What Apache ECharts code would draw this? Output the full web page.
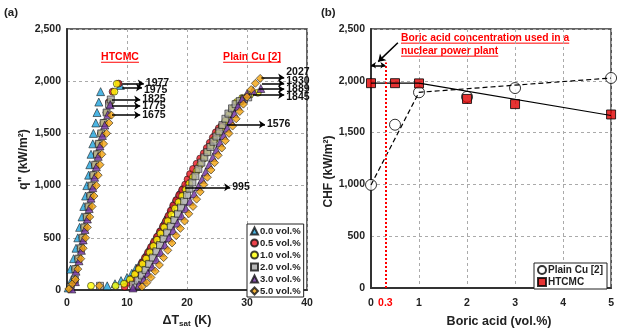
<!DOCTYPE html>
<html>
<head>
<meta charset="utf-8">
<script src="https://cdn.jsdelivr.net/npm/echarts@6/dist/echarts.min.js"></script>
<style>
html, body {margin: 0; padding: 0; background: #fff;}
#chart {width: 617px; height: 333px;}
</style>
</head>
<body>
<div id="chart"></div>
<script>
// ---- panel (a): boiling curves, [dT_sat (K), q'' (kW/m2)] ----
const concNames = ['0.0 vol.%', '0.5 vol.%', '1.0 vol.%', '2.0 vol.%', '3.0 vol.%', '5.0 vol.%'];

// HTCMC branch (steep, left)
const htcmc00 = [[0.2,20],[0.8,100],[0.6,200],[1.1,300],[1.5,400],[1.8,500],[2.1,600],[2.5,700],[2.8,800],[3.1,900],[3.3,1000],[3.6,1100],[3.8,1200],[4.0,1300],[4.3,1400],[4.4,1500],[4.8,1600],[5.0,1700],[5.3,1800],[5.6,1900],[8.9,1960]];
const htcmc05 = [[0.6,30],[1.3,100],[1.4,200],[1.9,300],[2.3,400],[2.6,500],[2.9,600],[3.3,700],[3.6,800],[3.9,900],[4.1,1000],[4.4,1100],[4.7,1200],[5.0,1300],[5.3,1400],[5.7,1500],[6.1,1600],[6.6,1700],[7.0,1800],[7.6,1900],[8.6,1977]];
const htcmc10 = [[0.6,30],[1.3,100],[1.4,200],[1.9,300],[2.3,400],[2.6,500],[2.9,600],[3.3,700],[3.6,800],[3.9,900],[4.1,1000],[4.4,1100],[4.7,1200],[5.0,1300],[5.3,1400],[5.7,1500],[6.1,1600],[6.6,1700],[7.2,1800],[7.9,1900],[8.3,1975]];
const htcmc20 = [[0.6,30],[1.3,100],[1.4,200],[1.9,300],[2.3,400],[2.6,500],[2.9,600],[3.3,700],[3.6,800],[3.9,900],[4.1,1000],[4.4,1100],[4.7,1200],[5.0,1300],[5.3,1400],[5.7,1500],[6.1,1600],[6.6,1700],[7.0,1780],[7.3,1825]];
const htcmc30 = [[0.8,10],[1.4,80],[1.5,180],[2.0,280],[2.4,380],[2.7,480],[3.0,580],[3.4,680],[3.7,780],[4.0,880],[4.3,980],[4.6,1080],[4.9,1180],[5.2,1280],[5.5,1380],[5.9,1480],[6.3,1580],[6.8,1680],[7.2,1775]];
const htcmc50 = [[0.3,10],[0.9,60],[1.4,100],[1.8,200],[2.3,300],[2.7,400],[3.1,500],[3.4,600],[3.8,700],[4.2,800],[4.5,900],[4.9,1000],[5.2,1100],[5.5,1200],[5.8,1300],[6.1,1400],[6.6,1500],[7.0,1600],[7.4,1675]];

// Plain Cu [2] branch (right)
const plain00 = [[6.7,40],[8.0,60],[9.0,90],[10.0,120],[10.8,160],[11.5,210],[12.2,260],[12.8,310],[13.4,370],[14.0,430],[14.6,490],[15.2,550],[15.8,610],[16.3,670],[16.9,730],[17.4,790],[17.9,850],[18.5,910],[19.0,960],[19.7,995]];
const plain05 = [[9.6,30],[10.3,70],[10.9,110],[11.5,160],[12.0,210],[12.5,260],[13.0,310],[13.5,360],[14.0,410],[14.5,460],[15.0,510],[15.5,560],[16.0,610],[16.5,660],[16.9,710],[17.3,760],[17.7,810],[18.2,860],[18.7,910],[19.2,960],[19.7,1010],[20.1,1060],[20.5,1110],[21.0,1160],[21.6,1210],[22.2,1260],[22.8,1310],[23.3,1360],[23.8,1410],[24.3,1460],[24.8,1510],[25.3,1550],[25.8,1576]];
const plain10 = [[4.0,40],[8.1,40],[9.5,60],[10.5,100],[11.3,150],[12.0,200],[12.6,250],[13.2,300],[13.8,360],[14.4,420],[15.0,480],[15.6,540],[16.2,600],[16.8,660],[17.4,720],[18.0,780],[18.6,840],[19.2,900],[19.8,960],[20.4,1020],[21.0,1080],[21.6,1140],[22.2,1200],[22.8,1260],[23.4,1320],[24.0,1380],[24.6,1440],[25.2,1500],[25.8,1560],[26.4,1620],[27.0,1680],[27.6,1740],[28.3,1800],[29.2,1840],[30.5,1870],[31.8,1889]];
const plain20 = [[5.5,40],[11.0,50],[11.8,90],[12.5,140],[13.1,190],[13.7,250],[14.3,310],[14.9,370],[15.5,430],[16.1,490],[16.7,550],[17.3,610],[17.9,670],[18.5,730],[19.0,790],[19.5,850],[20.0,910],[20.4,970],[20.9,1030],[21.4,1090],[21.9,1160],[22.4,1220],[22.9,1270],[23.4,1320],[23.9,1370],[24.4,1420],[24.9,1470],[25.4,1520],[25.9,1580],[26.4,1640],[26.9,1690],[27.5,1740],[28.1,1780],[28.8,1810],[29.5,1830],[30.2,1845]];
const plain30 = [[11.0,20],[12.0,50],[12.8,100],[13.5,160],[14.2,220],[14.9,290],[15.6,360],[16.3,430],[17.0,500],[17.7,570],[18.4,640],[19.1,710],[19.8,780],[20.5,850],[21.2,920],[21.9,990],[22.5,1060],[23.1,1130],[23.7,1200],[24.3,1270],[24.9,1340],[25.5,1410],[26.1,1480],[26.7,1550],[27.3,1620],[27.9,1690],[28.5,1760],[29.2,1830],[30.0,1880],[31.0,1910],[32.3,1930]];
const plain50 = [[5.4,40],[12.5,30],[13.3,70],[14.0,120],[14.7,180],[15.4,240],[16.1,310],[16.8,380],[17.5,450],[18.2,520],[18.9,590],[19.6,660],[20.3,730],[21.0,800],[21.6,870],[22.2,940],[22.8,1010],[23.4,1080],[24.0,1150],[24.6,1220],[25.2,1290],[25.8,1360],[26.4,1430],[27.0,1500],[27.6,1570],[28.2,1640],[28.8,1710],[29.4,1780],[30.0,1850],[30.7,1920],[31.4,1980],[32.2,2027]];

// CHF call-outs in panel (a): text, arrow start, arrow end (data coords), label nudge (px)
const chfArrows = [
    {text: '1977', from: [9.2, 1977], to: [12.8, 1977], dy: 0},
    {text: '1975', from: [9.2, 1940], to: [12.5, 1940], dy: 3},
    {text: '1825', from: [7.5, 1825], to: [12.2, 1825], dy: 0},
    {text: '1775', from: [7.5, 1763], to: [12.2, 1763], dy: 0},
    {text: '1675', from: [7.5, 1676], to: [12.2, 1676], dy: 0},
    {text: '2027', from: [32.4, 2035], to: [36.2, 2035], dy: -5},
    {text: '1930', from: [32.5, 1980], to: [36.2, 1980], dy: -2},
    {text: '1889', from: [32.0, 1924], to: [36.2, 1924], dy: 0},
    {text: '1845', from: [31.0, 1868], to: [36.2, 1868], dy: 2},
    {text: '1576', from: [26.7, 1586], to: [33.0, 1586], dy: 0},
    {text: '995', from: [19.7, 984], to: [27.2, 984], dy: 0}
];

// ---- panel (b): CHF vs boric acid ----
const boric = [0, 0.5, 1, 2, 3, 5];
const chfPlainCu = [995, 1576, 1889, 1845, 1930, 2027];
const chfHtcmc = [1977, 1977, 1975, 1825, 1775, 1675];
const trendPlainCu = [[0, 995], [1, 1889], [5, 2027]];
const trendHtcmc = [[0, 1977], [1, 1977], [5, 1665]];
const npsBoric = 0.3;

const FONT = '"Liberation Sans", Arial, sans-serif';
const colors = ['#1fa2dc', '#e8141e', '#ffff00', '#a6a6a6', '#7030a0', '#f2a20c'];
const symbols = ['triangle', 'circle', 'circle', 'rect', 'triangle', 'diamond'];
const sizes = [8, 7, 7, 7, 8, 8];
const htcmcSets = [htcmc00, htcmc05, htcmc10, htcmc20, htcmc30, htcmc50];
const plainSets = [plain00, plain05, plain10, plain20, plain30, plain50];

const thousands = v => v.toLocaleString('en-US');

function measure(text, font) {
    const ctx = document.createElement('canvas').getContext('2d');
    ctx.font = font;
    return ctx.measureText(text).width;
}

// red underlined text, centred or left aligned
function underlined(text, x, y, size, align) {
    const font = 'bold ' + size + 'px ' + FONT;
    const w = measure(text, font);
    const x0 = align === 'center' ? x - w / 2 : x;
    return [
        {type: 'text', x: x0, y: y, style: {text: text, font: font, fill: '#ff0000', align: 'left', verticalAlign: 'middle'}},
        {type: 'line', shape: {x1: x0, y1: y + size / 2, x2: x0 + w, y2: y + size / 2}, style: {stroke: '#ff0000', lineWidth: 1}}
    ];
}

const axisLabel = {color: '#222', fontWeight: 'bold', fontSize: 10.5, fontFamily: FONT};
const nameStyle = {color: '#222', fontWeight: 'bold', fontSize: 12, fontFamily: FONT};
const splitLine = {show: true, lineStyle: {color: '#aaa', type: [3, 3], width: 1}};
const axisLine = {show: true, lineStyle: {color: '#333', width: 2}};

const leftSeries = concNames.map((name, i) => ({
    name: name,
    type: 'scatter',
    xAxisIndex: 0,
    yAxisIndex: 0,
    symbol: symbols[i],
    symbolSize: sizes[i],
    clip: false,
    itemStyle: {color: colors[i], borderColor: '#111', borderWidth: 0.7},
    data: htcmcSets[i].concat(plainSets[i])
}));

const arrowSeries = {
    name: 'arrows',
    type: 'line',
    xAxisIndex: 0,
    yAxisIndex: 0,
    data: [],
    markLine: {
        silent: true,
        symbol: ['none', 'arrow'],
        symbolSize: [6, 6],
        lineStyle: {color: '#000', width: 1.5, type: 'solid'},
        label: {show: true, position: 'end', distance: 2, color: '#111', fontWeight: 'bold', fontSize: 10.5, fontFamily: FONT},
        data: chfArrows.map(a => [
            {coord: a.from, label: {formatter: a.text, offset: [0, a.dy]}},
            {coord: a.to}
        ])
    }
};

const rightSeries = [
    {
        name: 'trendPlain', type: 'line', xAxisIndex: 1, yAxisIndex: 1,
        showSymbol: false, lineStyle: {color: '#000', width: 1.2, type: [5, 3]},
        data: trendPlainCu,
        markLine: {
            silent: true, symbol: ['none', 'none'],
            lineStyle: {color: '#ff0000', width: 2, type: [2, 2]},
            label: {show: true, position: 'start', distance: 10, formatter: String(npsBoric), color: '#ff0000', fontWeight: 'bold', fontSize: 10.5, fontFamily: FONT},
            data: [[{coord: [npsBoric, 0]}, {coord: [npsBoric, 2177]}]]
        }
    },
    {
        name: 'trendHtcmc', type: 'line', xAxisIndex: 1, yAxisIndex: 1,
        showSymbol: false, lineStyle: {color: '#000', width: 1.2},
        data: trendHtcmc,
        markLine: {
            silent: true,
            lineStyle: {color: '#000', width: 1.5, type: 'solid'},
            label: {show: false},
            data: [
                [{coord: [0, 2150], symbol: 'arrow', symbolSize: 5}, {coord: [npsBoric, 2150], symbol: 'arrow', symbolSize: 5}],
                [{coord: [0.56, 2368], symbol: 'none'}, {coord: [0.15, 2185], symbol: 'arrow', symbolSize: 7}]
            ]
        }
    },
    {
        name: 'Plain Cu [2]', type: 'scatter', xAxisIndex: 1, yAxisIndex: 1,
        symbol: 'circle', symbolSize: 11, clip: false,
        itemStyle: {color: '#fff', borderColor: '#000', borderWidth: 1},
        data: boric.map((b, i) => [b, chfPlainCu[i]])
    },
    {
        name: 'HTCMC', type: 'scatter', xAxisIndex: 1, yAxisIndex: 1,
        symbol: 'rect', symbolSize: 9, clip: false,
        itemStyle: {color: '#e00000', borderColor: '#000', borderWidth: 1},
        data: boric.map((b, i) => [b, chfHtcmc[i]])
    }
];

const chart = echarts.init(document.getElementById('chart'), null, {renderer: 'canvas'});

chart.setOption({
    animation: false,
    backgroundColor: '#fff',
    textStyle: {fontFamily: FONT},
    grid: [
        {left: 67, top: 29, width: 240, height: 269, show: true, borderColor: '#333', borderWidth: 1.5},
        {left: 371, top: 29, width: 242, height: 266, show: true, borderColor: '#333', borderWidth: 1.5}
    ],
    xAxis: [
        {
            gridIndex: 0, type: 'value', min: 0, max: 40, interval: 10,
            axisLine: axisLine, axisTick: {show: false}, splitLine: splitLine,
            axisLabel: Object.assign({margin: 8}, axisLabel),
            name: '{a|ΔT}{s|sat}{a| (K)}', nameLocation: 'middle', nameGap: 24,
            nameTextStyle: {rich: {
                a: {fontSize: 12.5, fontWeight: 'bold', color: '#222', fontFamily: FONT},
                s: {fontSize: 8, fontWeight: 'bold', color: '#222', fontFamily: FONT, verticalAlign: 'bottom', padding: [6, 0, 0, 0]}
            }}
        },
        {
            gridIndex: 1, type: 'value', min: 0, max: 5, interval: 1,
            axisLine: axisLine, axisTick: {show: false}, splitLine: splitLine,
            axisLabel: Object.assign({margin: 10}, axisLabel),
            name: 'Boric acid (vol.%)', nameLocation: 'middle', nameGap: 27,
            nameTextStyle: Object.assign({}, nameStyle, {fontSize: 12.5, padding: [0, 0, 0, 16]})
        }
    ],
    yAxis: [
        {
            gridIndex: 0, type: 'value', min: 0, max: 2500, interval: 500,
            axisLine: axisLine, axisTick: {show: false}, splitLine: splitLine,
            axisLabel: Object.assign({formatter: thousands, margin: 6}, axisLabel),
            name: 'q" (kW/m²)', nameLocation: 'middle', nameGap: 37, nameTextStyle: nameStyle
        },
        {
            gridIndex: 1, type: 'value', min: 0, max: 2500, interval: 500,
            axisLine: axisLine, axisTick: {show: false}, splitLine: splitLine,
            axisLabel: Object.assign({formatter: thousands, margin: 6}, axisLabel),
            name: 'CHF (kW/m²)', nameLocation: 'middle', nameGap: 33,
            nameTextStyle: Object.assign({}, nameStyle, {padding: [0, 26, 0, 0]})
        }
    ],
    legend: [
        {
            data: concNames, orient: 'vertical', left: 247, top: 224,
            itemWidth: 7, itemHeight: 7, itemGap: 2, padding: [2, 3, 1, 3],
            backgroundColor: '#fff', borderColor: '#222', borderWidth: 1, borderRadius: 0,
            textStyle: {fontSize: 9.5, lineHeight: 9, fontWeight: 'bold', color: '#222', fontFamily: FONT, padding: [0, 0, 0, -3]}
        },
        {
            data: ['Plain Cu [2]', 'HTCMC'], orient: 'vertical', left: 534, top: 263,
            itemWidth: 8, itemHeight: 8, itemGap: 2, padding: [2, 4, 2, 3],
            backgroundColor: '#fff', borderColor: '#222', borderWidth: 1, borderRadius: 0,
            textStyle: {fontSize: 10, lineHeight: 10, fontWeight: 'bold', color: '#222', fontFamily: FONT, padding: [0, 0, 0, -3]}
        }
    ],
    graphic: [
        {type: 'text', x: 4, y: 13, style: {text: '(a)', font: 'bold 11.5px ' + FONT, fill: '#222', verticalAlign: 'middle'}},
        {type: 'text', x: 321, y: 13, style: {text: '(b)', font: 'bold 11.5px ' + FONT, fill: '#222', verticalAlign: 'middle'}}
    ]
        .concat(underlined('HTCMC', 120, 57, 10.5, 'center'))
        .concat(underlined('Plain Cu [2]', 252, 57, 10.5, 'center'))
        .concat(underlined('Boric acid concentration used in a', 401, 38, 10.3, 'left'))
        .concat(underlined('nuclear power plant', 401, 51, 10.3, 'left')),
    series: leftSeries.concat([arrowSeries]).concat(rightSeries)
});
</script>
</body>
</html>
